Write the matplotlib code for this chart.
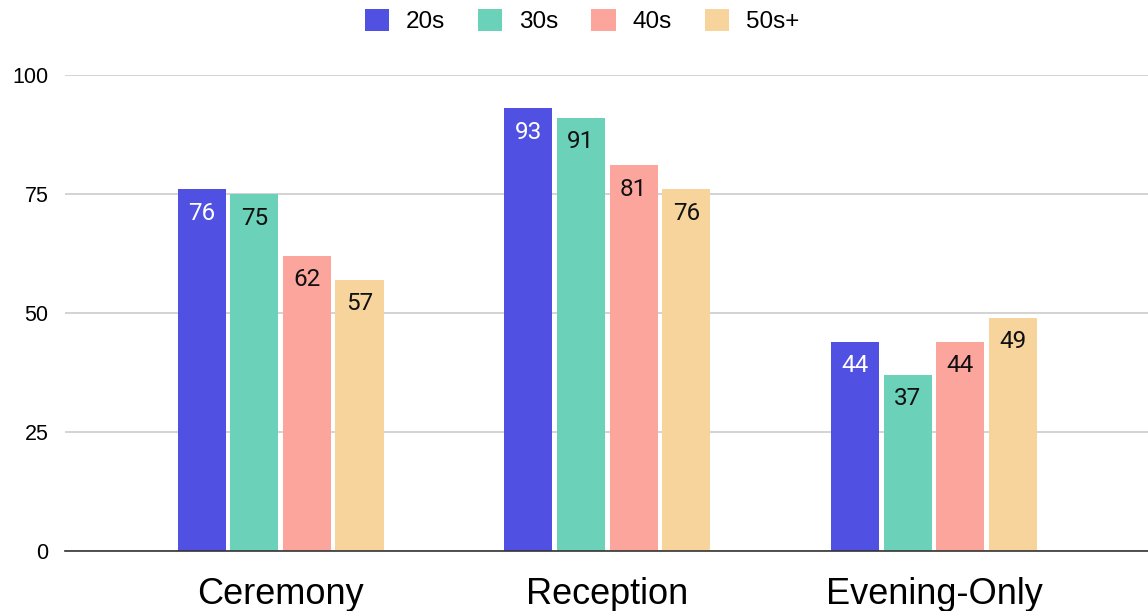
import numpy as np
import matplotlib.pyplot as plt

categorias = ["Ceremony", "Reception", "Evening-Only"]
faixas = ["20s", "30s", "40s", "50s+"]
valores_20s = [76, 93, 44]
valores_30s = [75, 91, 37]
valores_40s = [62, 81, 44]
valores_50s = [57, 76, 49]

cores = ["#5050E2", "#6CD1B9", "#FCA59C", "#F6D49B"]
cores_texto = ["white", "#111111", "#111111", "#111111"]

fig = plt.figure(figsize=(11.48, 6.11), dpi=100)
ax = fig.add_axes([0.0566, 0.0982, 0.9434, 0.779])

x = np.arange(len(categorias))
largura = 0.147
passo = 0.161
series = [valores_20s, valores_30s, valores_40s, valores_50s]

for i, (nome, vals) in enumerate(zip(faixas, series)):
    pos = x + (i - 1.5) * passo
    barras = ax.bar(pos, vals, width=largura, color=cores[i], label=nome, zorder=3)
    # rótulo de valor dentro da barra, perto do topo
    for b, v in zip(barras, vals):
        ax.annotate(str(v), (b.get_x() + b.get_width() / 2, v),
                    xytext=(0, -24), textcoords="offset pixels",
                    ha="center", va="center", fontsize=17.5,
                    family="Roboto", color=cores_texto[i], zorder=4)

ax.set_ylim(0, 100)
ax.set_xlim(-0.66, 2.655)
ax.set_yticks([0, 25, 50, 75, 100])
ax.set_xticks(x)
ax.set_xticklabels(categorias, fontsize=26, family="Liberation Sans")
for t in ax.get_yticklabels():
    t.set_fontsize(15.5)
    t.set_family("Liberation Sans")
ax.tick_params(axis="y", length=0, pad=12)
ax.tick_params(axis="x", length=0, pad=19)
ax.grid(axis="y", color="#cccccc", linewidth=1.2, zorder=0)
for lado in ["top", "right", "left"]:
    ax.spines[lado].set_visible(False)
ax.spines["bottom"].set_color("#333333")
ax.spines["bottom"].set_linewidth(1.2)
ax.spines["bottom"].set_zorder(5)

fig.legend(loc="center", bbox_to_anchor=(582 / 1148, 1 - 21 / 611), ncol=4, frameon=False,
           prop={"family": "Liberation Sans", "size": 17.5},
           handlelength=1.0, handleheight=1.0, handletextpad=0.7, columnspacing=1.35,
           borderpad=0, borderaxespad=0)

plt.savefig("out.png", dpi=100)
